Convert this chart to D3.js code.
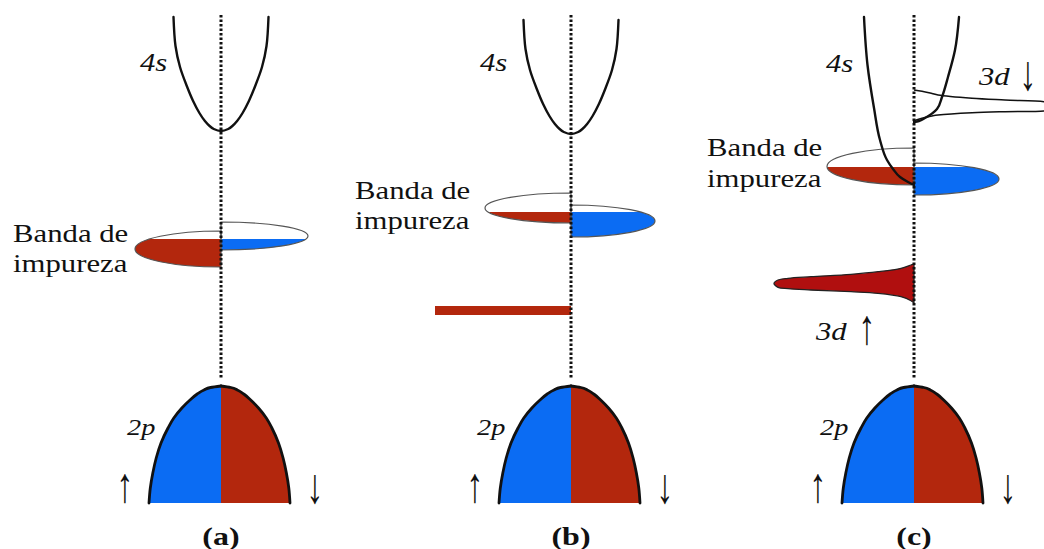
<!DOCTYPE html>
<html>
<head>
<meta charset="utf-8">
<script src="https://cdn.jsdelivr.net/npm/d3@7"></script>
<style>
  html, body { margin: 0; padding: 0; background: #fff; }
  svg { display: block; }
</style>
</head>
<body>
<svg id="chart" width="1044" height="549"></svg>
<script>
// ---- Panels -------------------------------------------------------------
const panels = ["a", "b", "c"];
const panelLabels = ["(a)", "(b)", "(c)"];

// ---- Valence 2p band (energy vs DOS, spin up drawn left, spin down right)
const energy2p  = [11.7, 11.55, 11.3, 10.9, 10.3, 9.5, 8.5, 7.5, 6.0, 4.5, 3.0, 1.5, 0];
const dos2pUp   = [0, 1.04, 1.7, 2.38, 3.1, 3.91, 4.72, 5.3, 6.0, 6.48, 6.82, 7.07, 7.2];
const dos2pDown = [0, 0.99, 1.63, 2.28, 2.97, 3.75, 4.53, 5.09, 5.75, 6.21, 6.54, 6.78, 6.9];

// ---- 4s conduction band, unpolarised (panels a, b)
const bottom4s = [37.2, 36.9];
const offset4s = [11.4, 8.5, 6.4, 4.5, 3.0, 1.8, 1.0, 0.5, 0.2, 0];
const dos4s    = [4.75, 4.55, 4.1, 3.42, 2.79, 2.16, 1.61, 1.14, 0.72, 0];

// ---- 4s band split by spin (panel c)
const bottom4sUpC   = 31.8;
const offset4sUpC   = [16.8, 12.0, 7.7, 4.5, 2.5, 1.6, 0.8, 0.3, 0];
const dos4sUpC      = [5.0, 4.65, 4.0, 3.4, 2.7, 2.1, 1.4, 0.6, 0];
const bottom4sDownC = 38.1;
const offset4sDownC = [10.5, 7.2, 4.5, 2.5, 1.3, 0.4, 0.1, 0];
const dos4sDownC    = [4.5, 4.1, 3.4, 2.8, 2.3, 1.1, 0.5, 0];

// ---- Impurity band: half-ellipses per spin, filled up to the Fermi level
const impCentreUp    = [25.4, 29.5, 33.65];
const impHalfHUp     = [1.8, 1.5, 1.85];
const impWidthUp     = [8.6, 8.6, 8.7];
const impCentreDown  = [26.7, 28.2, 32.4];
const impHalfHDown   = [1.4, 1.6, 1.6];
const impWidthDown   = [8.7, 8.4, 8.5];
const fermiLevel     = [26.4, 29.1, 33.6];

// ---- Localised 3d level (panel b)
const level3dB = 19.25;
const level3dWidthB = 13.6;

// ---- 3d spin-up band (panel c), spreading to the left
const dos3dUp    = [-14.0, -13.6, -12.6, -10.3, -6.3, -3.6, -1.3, -0.3, 0];
const top3dUp    = [21.97, 22.3, 22.47, 22.63, 22.87, 23.13, 23.47, 23.8, 23.9];
const bottom3dUp = [21.97, 21.57, 21.43, 21.3, 21.13, 20.97, 20.63, 20.23, 20.0];

// ---- 3d spin-down band (panel c), spreading to the right
const dos3dDown    = [0, 0.8, 1.8, 2.4, 5.8, 9.1, 13.0, 13.8, 14.2];
const top3dDown    = [41.3, 41.18, 40.95, 40.8, 40.47, 40.3, 40.13, 39.95, 39.65];
const bottom3dDown = [38.23, 38.47, 38.7, 38.8, 39.03, 39.13, 39.2, 39.35, 39.65];

// ---- Drawing ------------------------------------------------------------
const W = 1044, H = 549;
const svg = d3.select("#chart");
const y = d3.scaleLinear().domain([0, 50]).range([503, 3]);
const centre = d3.scaleOrdinal().domain(panels).range([221, 571, 914]);
const xFor = p => d3.scaleLinear().domain([-10, 10]).range([centre(p) - 100, centre(p) + 100]);

const BLUE = "#0b6cf3", BRICK = "#b3270d", CRIMSON = "#b00f0f";
const smooth = d3.curveCatmullRom.alpha(0.5);
const SERIF = "'Liberation Serif', 'Times New Roman', serif";
const STRETCH = 1.23;
const defs = svg.append("defs");

function text(g, str, px, py, size, opts = {}) {
  const sx = opts.sx || STRETCH, sy = opts.sy || 1;
  return g.append("text")
    .attr("transform", `translate(${px},${py}) scale(${sx},${sy})`)
    .attr("text-anchor", opts.anchor || "start")
    .attr("font-family", SERIF)
    .attr("font-size", size)
    .attr("font-style", opts.italic ? "italic" : "normal")
    .attr("font-weight", opts.bold ? "bold" : "normal")
    .attr("fill", "#111")
    .text(str);
}
const arrow = (g, str, px, py) =>
  text(g, str, px, py, 34, { anchor: "middle", sx: 1, sy: 1.45 });

function halfEllipse(x, cE, hE, w, side) {
  const cx = x(0), top = y(cE + hE), bot = y(cE - hE);
  const rx = Math.abs(x(w) - x(0)), ry = Math.abs(y(cE + hE) - y(cE));
  return `M${cx},${top}A${rx},${ry} 0 0 ${side < 0 ? 0 : 1} ${cx},${bot}Z`;
}

// profile branch: DOS (signed) vs energy, ordered top to bottom on screen
const branch = d3.line().curve(d3.curveMonotoneY);
const branchArea = d3.area().curve(d3.curveMonotoneY);

panels.forEach((p, i) => {
  const x = xFor(p);
  const g = svg.append("g").attr("class", `panel-${p}`);

  // clip region below the Fermi level
  defs.append("clipPath").attr("id", `fermi-${p}`)
    .append("rect").attr("x", 0).attr("y", y(fermiLevel[i])).attr("width", W).attr("height", H);

  // 3d spin-down band (empty) in panel c
  if (p === "c") {
    const pts = dos3dDown.map((d, k) => [x(d), y(top3dDown[k])])
      .concat(dos3dDown.map((d, k) => [x(d), y(bottom3dDown[k])]).reverse().slice(1));
    g.append("path")
      .attr("d", d3.line().curve(smooth)(pts))
      .attr("fill", "#fff").attr("stroke", "#111").attr("stroke-width", 1.5);
  }

  // impurity band
  const upPath = halfEllipse(x, impCentreUp[i], impHalfHUp[i], impWidthUp[i], -1);
  const dnPath = halfEllipse(x, impCentreDown[i], impHalfHDown[i], impWidthDown[i], 1);
  g.append("path").attr("d", upPath).attr("fill", "#fff");
  g.append("path").attr("d", dnPath).attr("fill", "#fff");
  g.append("path").attr("d", upPath).attr("fill", BRICK).attr("clip-path", `url(#fermi-${p})`);
  g.append("path").attr("d", dnPath).attr("fill", BLUE).attr("clip-path", `url(#fermi-${p})`);
  g.append("path").attr("d", upPath).attr("fill", "none").attr("stroke", "#555").attr("stroke-width", 1.2);
  g.append("path").attr("d", dnPath).attr("fill", "none").attr("stroke", "#555").attr("stroke-width", 1.2);

  // localised 3d level in panel b
  if (p === "b") {
    g.append("rect")
      .attr("x", x(-level3dWidthB)).attr("y", y(level3dB) - 4.5)
      .attr("width", x(0) - x(-level3dWidthB)).attr("height", 9)
      .attr("fill", BRICK);
  }

  // 3d spin-up band (filled) in panel c
  if (p === "c") {
    const pts = dos3dUp.map((d, k) => [x(d), y(top3dUp[k])]).reverse()
      .concat(dos3dUp.map((d, k) => [x(d), y(bottom3dUp[k])]).slice(1));
    g.append("path")
      .attr("d", d3.line().curve(smooth)(pts) + "Z")
      .attr("fill", CRIMSON).attr("stroke", "#222").attr("stroke-width", 1.3);
  }

  // 4s band
  const stroke4s = (d, curve) => g.append("path").attr("d", d3.line().curve(curve)(d))
    .attr("fill", "none").attr("stroke", "#111").attr("stroke-width", 2.4)
    .attr("stroke-linecap", "round");
  if (p !== "c") {
    const b = bottom4s[i];
    const left = offset4s.map((o, k) => [x(-dos4s[k]), y(b + o)]);
    const right = offset4s.map((o, k) => [x(dos4s[k]), y(b + o)]).reverse().slice(1);
    stroke4s(left.concat(right), d3.curveCatmullRom.alpha(0.5));
  } else {
    stroke4s(offset4sUpC.map((o, k) => [x(-dos4sUpC[k]), y(bottom4sUpC + o)]), d3.curveMonotoneY);
    stroke4s(offset4sDownC.map((o, k) => [x(dos4sDownC[k]), y(bottom4sDownC + o)]), d3.curveMonotoneY);
  }

  // 2p valence band: spin up (left, blue) and spin down (right, red)
  const halves = [
    { dos: dos2pUp, sign: -1, fill: BLUE },
    { dos: dos2pDown, sign: 1, fill: BRICK }
  ];
  halves.forEach(h => {
    const pts = energy2p.map((e, k) => ({ px: x(h.sign * h.dos[k]), py: y(e) }));
    g.append("path")
      .attr("d", branchArea.x0(x(0)).x1(d => d.px).y(d => d.py)(pts))
      .attr("fill", h.fill);
  });
  halves.forEach(h => {
    const pts = energy2p.map((e, k) => [x(h.sign * h.dos[k]), y(e)]);
    g.append("path").attr("d", branch(pts))
      .attr("fill", "none").attr("stroke", "#111").attr("stroke-width", 2.8)
      .attr("stroke-linecap", "round");
  });

  // dotted axis
  g.append("line")
    .attr("x1", x(0)).attr("x2", x(0))
    .attr("y1", y(48.8)).attr("y2", y(12.4))
    .attr("stroke", "#111").attr("stroke-width", 3)
    .attr("stroke-dasharray", "2.5,2");

  // labels
  const fourS = [[-8.1, 43.2], [-9.1, 43.2], [-8.8, 43.1]][i];
  text(g, "4s", x(fourS[0]), y(fourS[1]), 25, { italic: true });

  const banda = [[-20.8, 26.1, 23.1], [-21.6, 30.4, 27.4], [-20.7, 34.7, 31.6]][i];
  text(g, "Banda de", x(banda[0]), y(banda[1]), 25);
  text(g, "impureza", x(banda[0]), y(banda[2]), 25);

  text(g, "2p", x(-9.4), y(6.8), 23, { italic: true });
  arrow(g, "\u2191", x(-9.6), y(0.1));
  arrow(g, "\u2193", x(9.4), y(0));
  text(g, panelLabels[i], x(0), y(-4.2), 26, { anchor: "middle", bold: true });

  if (p === "c") {
    text(g, "3d", x(-9.8), y(16.3), 25, { italic: true });
    arrow(g, "\u2191", x(-4.7), y(15.9));
    text(g, "3d", x(6.5), y(41.8), 25, { italic: true });
    arrow(g, "\u2193", x(11.4), y(41.3));
  }
});
</script>
</body>
</html>
